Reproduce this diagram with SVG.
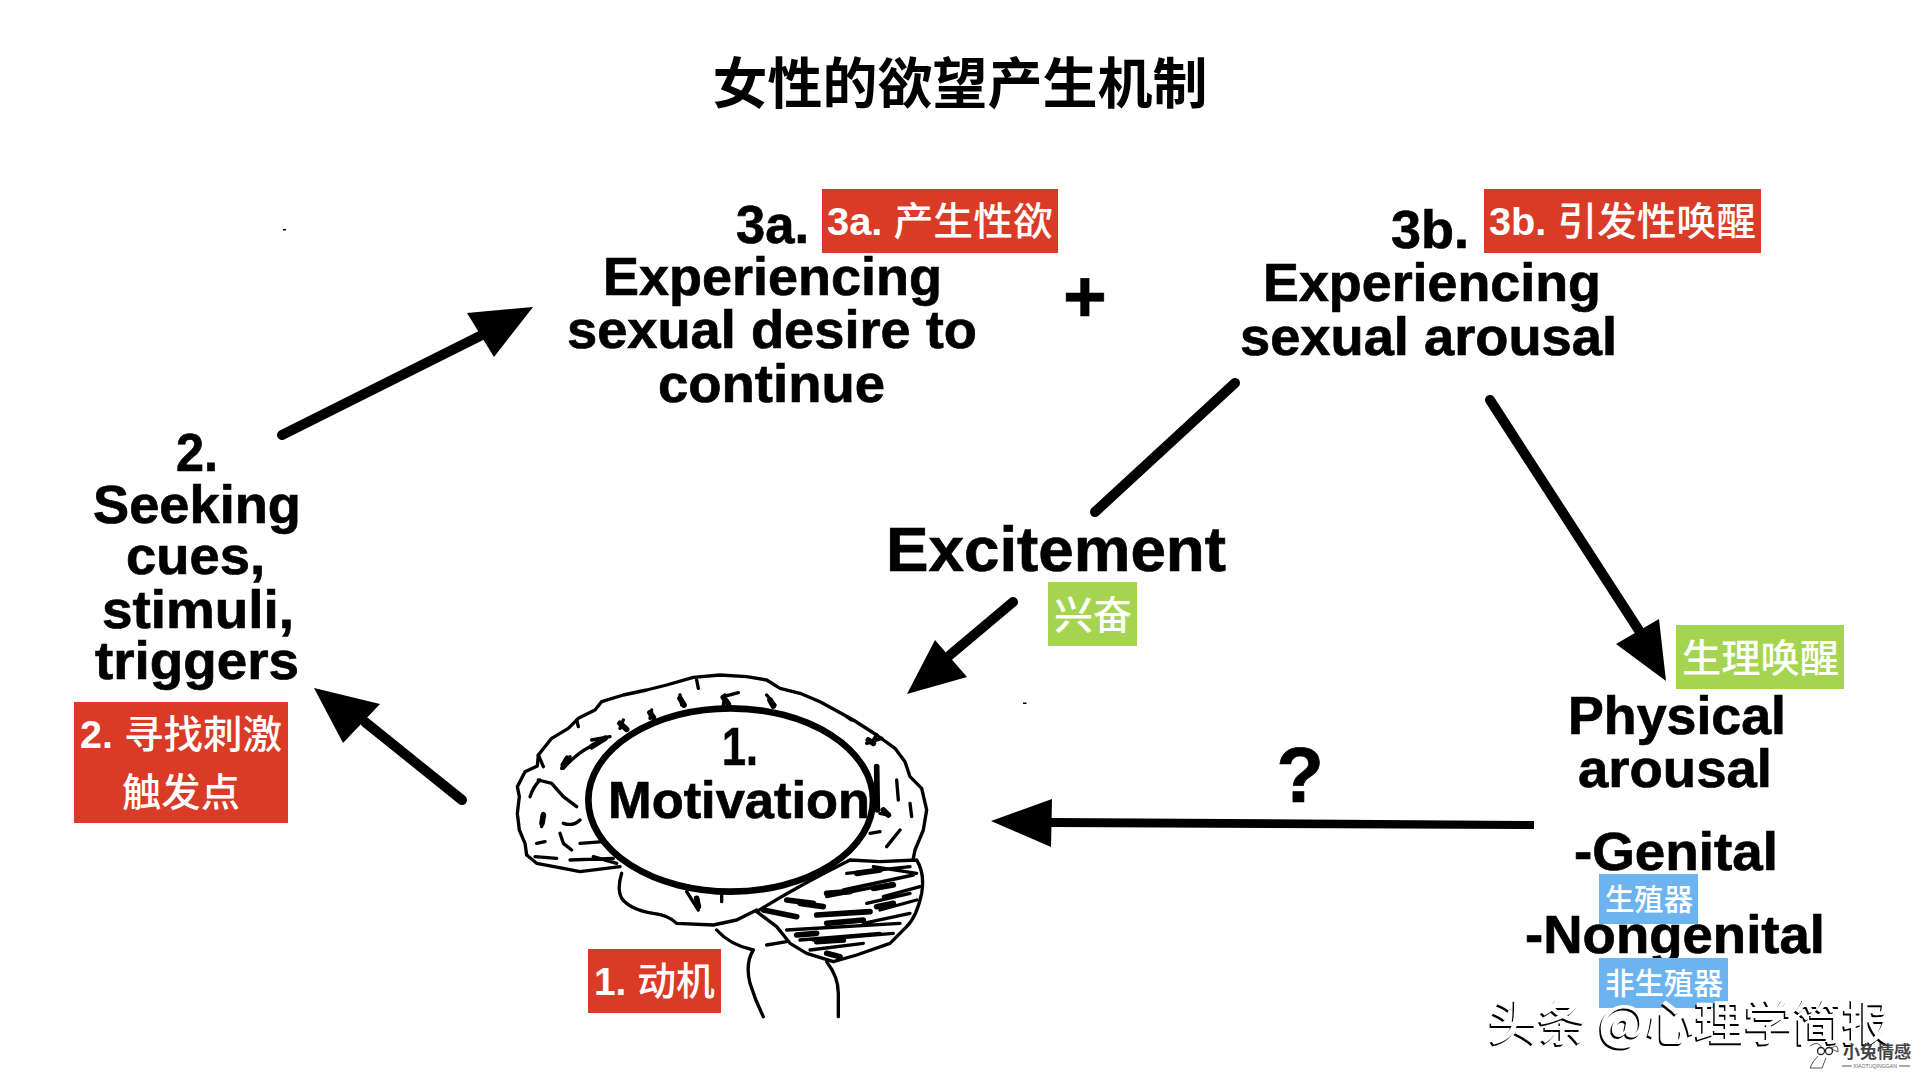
<svg xmlns="http://www.w3.org/2000/svg" width="1920" height="1080" viewBox="0 0 1920 1080">
<style>
.t{font-family:"Liberation Sans","Noto Sans CJK SC",sans-serif;font-weight:700;fill:#000;stroke:#000;stroke-width:.7px;font-size:54px}
.m{text-anchor:middle}
.l{font-family:"Liberation Sans","Noto Sans CJK SC",sans-serif;font-weight:500;fill:#fff;font-size:39px}
.l tspan{font-weight:700}
.s{font-size:30px}
.red{fill:#d93b27}.grn{fill:#a5d550}.blu{fill:#6cb4f0}
.c{stroke:#000;stroke-width:10;stroke-linecap:round;fill:none}
.h{fill:#000}
.b{fill:none;stroke:#000;stroke-width:10;stroke-linejoin:round;stroke-linecap:round}
.k{fill:none;stroke:#000;stroke-width:17;stroke-linecap:round}
.wm{font-family:"Noto Sans CJK SC",sans-serif;font-size:48px;font-weight:500}
</style>
<rect width="1920" height="1080" fill="#fff"/>
<g id="title"><text x="960" y="103" text-anchor="middle" font-family="'Noto Sans CJK SC',sans-serif" font-weight="700" font-size="55">女性的欲望产生机制</text></g>

<g id="connectors">
<line class="c" x1="282" y1="435" x2="490" y2="331"/><polygon class="h" points="533,307 467,313 494,357"/>
<line class="c" x1="1235" y1="383" x2="1095" y2="512"/>
<line class="c" x1="1490" y1="400" x2="1640" y2="632"/><polygon class="h" points="1659,619 1616,644 1666,681"/>
<line class="c" x1="1013" y1="602" x2="950" y2="655"/><polygon class="h" points="907,694 935,640 967,677"/>
<line class="c" x1="462" y1="800" x2="365" y2="722"/><polygon class="h" points="314,688 380,704 343,743"/>
<polygon class="h" points="1051,818 1534,821 1534,829 1051,827"/><polygon class="h" points="991,821 1052,799 1051,847"/>
</g>

<g id="node-3a">
<text class="t" x="736" y="243" textLength="73" lengthAdjust="spacingAndGlyphs">3a.</text>
<text class="t" x="603" y="295" textLength="339" lengthAdjust="spacingAndGlyphs">Experiencing</text>
<text class="t" x="567" y="348" textLength="410" lengthAdjust="spacingAndGlyphs">sexual desire to</text>
<text class="t" x="658" y="402" textLength="227" lengthAdjust="spacingAndGlyphs">continue</text>
<rect class="red" x="822" y="189" width="236" height="64"/>
<text class="l" x="827" y="235" textLength="226" lengthAdjust="spacingAndGlyphs"><tspan>3a.</tspan> 产生性欲</text>
</g>
<g id="plus"><text class="t m" x="1085" y="322" style="font-size:75px">+</text></g>
<g id="node-3b">
<text class="t" x="1391" y="248" textLength="78" lengthAdjust="spacingAndGlyphs">3b.</text>
<text class="t" x="1263" y="301" textLength="338" lengthAdjust="spacingAndGlyphs">Experiencing</text>
<text class="t" x="1240" y="355" textLength="377" lengthAdjust="spacingAndGlyphs">sexual arousal</text>
<rect class="red" x="1484" y="189" width="277" height="64"/>
<text class="l" x="1489" y="235" textLength="267" lengthAdjust="spacingAndGlyphs"><tspan>3b.</tspan> 引发性唤醒</text>
</g>
<g id="node-excitement">
<text class="t" x="886" y="571" style="font-size:63px" textLength="340" lengthAdjust="spacingAndGlyphs">Excitement</text>
<rect class="grn" x="1048" y="582" width="89" height="64"/>
<text class="l" x="1054" y="629" textLength="78" lengthAdjust="spacingAndGlyphs">兴奋</text>
</g>
<g id="node-2">
<text class="t" x="176" y="471" textLength="42" lengthAdjust="spacingAndGlyphs">2.</text>
<text class="t" x="93" y="523" textLength="208" lengthAdjust="spacingAndGlyphs">Seeking</text>
<text class="t" x="126" y="574" textLength="139" lengthAdjust="spacingAndGlyphs">cues,</text>
<text class="t" x="102" y="628" textLength="192" lengthAdjust="spacingAndGlyphs">stimuli,</text>
<text class="t" x="95" y="679" textLength="204" lengthAdjust="spacingAndGlyphs">triggers</text>
<rect class="red" x="74" y="702" width="214" height="121"/>
<text class="l" x="80" y="748" textLength="202" lengthAdjust="spacingAndGlyphs"><tspan>2.</tspan> 寻找刺激</text>
<text class="l" x="122" y="806" textLength="118" lengthAdjust="spacingAndGlyphs">触发点</text>
</g>
<g id="node-physical">
<text class="t" x="1568" y="734" textLength="218" lengthAdjust="spacingAndGlyphs">Physical</text>
<text class="t" x="1578" y="787" textLength="194" lengthAdjust="spacingAndGlyphs">arousal</text>
<text class="t" x="1574" y="870" textLength="204" lengthAdjust="spacingAndGlyphs">-Genital</text>
<text class="t" x="1525" y="953" textLength="300" lengthAdjust="spacingAndGlyphs">-Nongenital</text>
<rect class="grn" x="1676" y="625" width="168" height="64"/>
<text class="l" x="1682" y="672" textLength="157" lengthAdjust="spacingAndGlyphs">生理唤醒</text>
<rect class="blu" x="1599" y="874" width="99" height="50"/>
<text class="l s" x="1605" y="910" textLength="88" lengthAdjust="spacingAndGlyphs">生殖器</text>
<rect class="blu" x="1599" y="958" width="129" height="50"/>
<text class="l s" x="1605" y="994" textLength="118" lengthAdjust="spacingAndGlyphs">非生殖器</text>
</g>
<g id="question"><text class="t m" x="1300" y="802" style="font-size:78px">?</text></g>

<g id="node-1">
<g transform="translate(480 640) scale(.33333)">
<path class="b" d="M140,645 L135,610 L118,570 L112,520 L118,470 L112,440 L135,395 L172,378 L175,345 L215,295 L265,265 L295,235 L345,210 L365,185 L430,165 L500,150 L560,135 L640,112 L720,105 L800,110 L860,120 L900,145 L960,160 L1020,185 L1075,215 L1120,240 L1190,285 L1245,325 L1275,365 L1290,410 L1325,445 L1340,510 L1330,570 L1305,630 L1300,655"/>
<path class="b" d="M140,645 L170,670 L250,685 L300,695 L420,680"/>
<path class="b" d="M650,120 L655,145 M600,165 L605,195 M735,165 L730,195 M775,158 L730,170 M860,165 L885,195 M290,240 L295,260 M515,210 L510,235 M430,240 L420,265 M335,300 L390,290 M250,385 Q290,340 330,320 M245,385 L270,350 M175,420 L215,430 L250,470 L290,500 M150,470 Q160,440 180,420 M175,345 L190,380 M190,520 L185,560 M240,580 L250,610 L275,630 M300,540 Q280,560 250,550 M170,610 L195,605 M165,650 L230,655 M270,660 L400,655 M300,610 L370,605 M340,650 L410,670 M1160,310 L1205,295 M1250,420 L1255,480 M1290,490 L1295,530 M1260,570 L1220,620 M1170,580 L1200,575 M1200,520 L1225,525 M1115,240 L1100,230 M1190,285 L1180,300"/>
<path class="k" d="M1190,380 L1192,510 M600,175 L612,195 M730,172 L745,192 M420,250 L440,268 M510,218 L520,232 M870,180 L880,198 M335,320 L375,295 M250,375 L262,355 M190,525 L186,550 M1165,300 L1180,310 M1210,510 L1225,525 M650,775 L655,800"/>
<path class="b" d="M425,700 Q410,750 425,775 Q450,810 520,820 Q565,825 590,850 L700,855 L770,840 L830,810 M620,755 L655,810 M725,760 L725,785"/>
<path class="b" d="M1110,660 L1200,665 L1310,660 Q1335,700 1325,760 Q1310,830 1280,860 L1230,910 L1130,945 L1060,965 L980,940 L930,910 L890,860 L830,815 Q950,740 1110,660"/>
<path class="b" d="M1040,770 L1240,730 M1100,700 L1290,680 M1180,680 L1310,700 M1210,770 L1320,740 M1200,810 L1310,780 M920,870 L1260,850 M960,900 L1200,880 M990,930 L1150,910 M1090,750 L1300,705 M1160,790 L1290,760 M1150,850 L1290,820 M1000,900 L1240,880"/>
<path class="k" d="M850,810 L950,830 M920,780 L1000,790 M1010,825 L1170,815 M1040,850 L1150,840 M1180,745 L1240,735 M1040,760 L1110,755 M950,885 L1010,880 M960,790 L1030,800 M1130,700 L1200,690 M1010,905 L1090,900 M1190,800 L1240,790 M1040,940 L1080,950"/>
<path class="b" d="M710,870 Q750,915 820,930 Q795,970 810,1030 Q825,1080 850,1130 M1040,965 Q1075,1010 1075,1060 L1075,1130 M860,915 L920,905"/>
<ellipse cx="752" cy="480" rx="427" ry="275" fill="#fff" stroke="#000" stroke-width="20"/>
</g>
<text class="t" x="722" y="765" textLength="36" lengthAdjust="spacingAndGlyphs">1.</text>
<text class="t" x="608" y="818" style="font-size:52px" textLength="262" lengthAdjust="spacingAndGlyphs">Motivation</text>
<rect class="red" x="588" y="949" width="133" height="64"/>
<text class="l" x="594" y="995" textLength="121" lengthAdjust="spacingAndGlyphs"><tspan>1.</tspan> 动机</text>
</g>

<g id="specks"><rect x="283" y="229" width="3" height="1.5"/><rect x="1023" y="702.500" width="3.500" height="1.500"/></g>

<g id="watermark">
<text class="wm" x="1487" y="1042" fill="#000" textLength="403" lengthAdjust="spacingAndGlyphs">头条 @心理学简报</text>
<text class="wm" x="1488.500" y="1040" fill="#fff" textLength="403" lengthAdjust="spacingAndGlyphs">头条 @心理学简报</text>
<g fill="none" stroke="#555" stroke-width="1">
<path d="M1810,1046 Q1818,1040 1822,1048 M1832,1048 Q1838,1042 1838,1052 Q1832,1050 1831,1047 M1818,1056 Q1812,1062 1810,1068 L1822,1068 L1826,1058"/>
<circle cx="1821" cy="1051" r="3.500" stroke="#222" stroke-width="1.300"/><circle cx="1829" cy="1051" r="3.500" stroke="#222" stroke-width="1.300"/>
</g>
<text x="1843" y="1058" font-family="'Noto Sans CJK SC',sans-serif" font-weight="700" font-size="17" fill="#444">小兔情感</text>
<text x="1853" y="1068" font-family="'Liberation Sans',sans-serif" font-size="6" fill="#666" textLength="44" lengthAdjust="spacingAndGlyphs">XIAOTUQINGGAN</text>
<path d="M1842,1066 H1852 M1899,1066 H1910" stroke="#555" stroke-width="1"/>
</g>
</svg>
